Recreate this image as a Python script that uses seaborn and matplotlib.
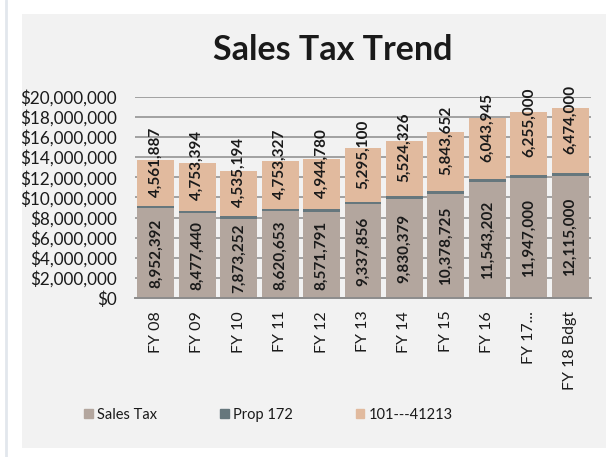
import numpy as np
import pandas as pd
import matplotlib.pyplot as plt
import seaborn as sns
from matplotlib.patches import Rectangle
from matplotlib.lines import Line2D
from matplotlib.ticker import FuncFormatter

sns.set_style('white')
plt.rcParams['font.family'] = ['Lato', 'DejaVu Sans']

# data
years = ['FY 08', 'FY 09', 'FY 10', 'FY 11', 'FY 12', 'FY 13', 'FY 14',
         'FY 15', 'FY 16', 'FY 17...', 'FY 18 Bdgt']
sales_tax = [8952392, 8477440, 7873252, 8620653, 8571791, 9337856, 9830379,
             10378725, 11543202, 11947000, 12115000]
prop_172 = [220000, 230000, 250000, 250000, 270000, 260000, 280000,
            300000, 300000, 310000, 320000]
fund_101 = [4561887, 4753394, 4535194, 4753327, 4944780, 5295100, 5524326,
            5843652, 6043945, 6255000, 6474000]
series_names = ['Sales Tax', 'Prop 172', '101---41213']

c_sales = '#B3A69E'
c_prop = '#66777D'
c_fund = '#E1BA9E'
grid_c = '#8C8C8C'
txt_c = '#1A1A1A'

df = pd.DataFrame({'year': years, 'sales': sales_tax, 'prop': prop_172, 'fund': fund_101})
df['lvl2'] = df['sales'] + df['prop']
df['lvl3'] = df['lvl2'] + df['fund']

fig = plt.figure(figsize=(6.13, 4.57), dpi=100)
fig.patch.set_facecolor('white')
# grey chart panel and thin left line
fig.add_artist(Rectangle((22/613, 1-448/457), 584/613, 434/457, transform=fig.transFigure,
                         facecolor='#F2F2F2', edgecolor='none', zorder=0))
fig.add_artist(Line2D([6/613, 6/613], [0, 1], transform=fig.transFigure, color='#E2E7ED', lw=2))

ax = fig.add_axes([135/613, 1-298.3/457, 456/613, 201.6/457])
ax.set_facecolor('none')

# stacked bars by overplotting cumulative totals
sns.barplot(data=df, x='year', y='lvl3', color=c_fund, saturation=1, width=0.89, linewidth=0, ax=ax, zorder=2)
sns.barplot(data=df, x='year', y='lvl2', color=c_prop, saturation=1, width=0.89, linewidth=0, ax=ax, zorder=3)
sns.barplot(data=df, x='year', y='sales', color=c_sales, saturation=1, width=0.89, linewidth=0, ax=ax, zorder=4)

ax.set_ylim(0, 20000000)
ax.set_yticks(np.arange(0, 20000001, 2000000))
ax.yaxis.set_major_formatter(FuncFormatter(lambda v, p: f'${v:,.0f}'))
ax.yaxis.grid(True, color=grid_c, lw=1.1)
ax.set_axisbelow(True)
for s in ['top', 'right', 'left']:
    ax.spines[s].set_visible(False)
ax.spines['bottom'].set_color(grid_c)
ax.spines['bottom'].set_linewidth(1.4)
ax.spines['bottom'].set_zorder(5)
ax.tick_params(axis='y', length=0, labelsize=12.3, colors=txt_c, pad=13)
ax.tick_params(axis='x', length=0, labelsize=11.5, colors=txt_c, pad=9)
plt.setp(ax.get_xticklabels(), rotation=90, va='top', ha='center')
ax.set_xlabel('')
ax.set_ylabel('')

for i, row in df.iterrows():
    ax.text(i, row['sales'] / 2, f"{row['sales']:,}", rotation=90, ha='center', va='center',
            fontsize=11, fontweight='bold', color=txt_c, zorder=6)
    ax.annotate(f"{row['fund']:,}", (i, row['lvl2'] + row['fund'] / 2), xytext=(0, 15),
                textcoords='offset points', rotation=90, ha='center', va='center',
                fontsize=11, fontweight='bold', color=txt_c, zorder=6, annotation_clip=False)

fig.text(333/613, 1-60/457, 'Sales Tax Trend', ha='center', va='baseline',
         fontsize=24.5, fontweight='bold', color=txt_c)

handles = [Rectangle((0, 0), 1, 1, color=c) for c in [c_sales, c_prop, c_fund]]
fig.legend(handles, series_names, loc='center left', bbox_to_anchor=(84/613, 1-415/457),
           ncol=3, frameon=False, fontsize=10.5, handlelength=0.6, handleheight=0.6,
           handletextpad=0.3, columnspacing=4.3, borderpad=0, borderaxespad=0,
           labelcolor=txt_c)

fig.savefig('out.png', dpi=100)
